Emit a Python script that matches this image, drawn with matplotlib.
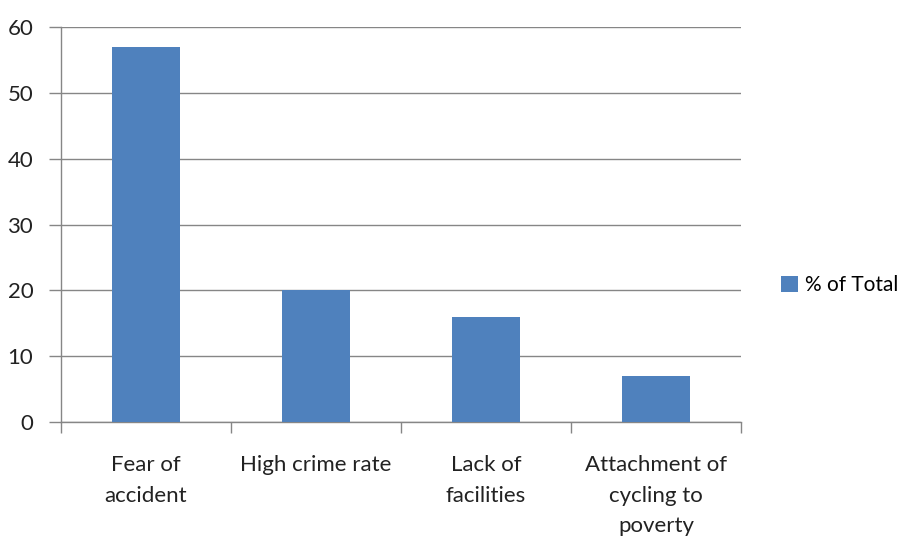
import numpy as np
import matplotlib.pyplot as plt
from matplotlib.patches import Patch

# Chart data.
categories = ["Fear of\naccident", "High crime rate", "Lack of\nfacilities",
              "Attachment of\ncycling to\npoverty"]
values = [57, 20, 16, 7]
seriesName = "% of Total"
yTicks = [0, 10, 20, 30, 40, 50, 60]

barColor = "#4F81BD"
gridColor = "#868686"

plt.rcParams["font.family"] = ["Lato", "DejaVu Sans"]

fig = plt.figure(figsize=(9.15, 5.41), dpi=100)
ax = fig.add_axes([0.0667, 0.22, 0.7433, 0.73])

x = np.arange(len(categories))
ax.bar(x, values, width=0.4, color=barColor, zorder=3)

# Axis limits and gridlines.
ax.set_xlim(-0.5, len(categories) - 0.5)
ax.set_ylim(0, 60)
ax.set_yticks(yTicks)
ax.yaxis.grid(True, color=gridColor, linewidth=1, zorder=0)

# Category labels at bar centers, tick marks at category boundaries.
ax.set_xticks(x)
ax.set_xticklabels(categories, fontsize=16, color="#222222", linespacing=1.65, va="top")
ax.set_xticks(np.arange(-0.5, len(categories)), minor=True)
ax.tick_params(axis="x", which="major", length=0, pad=24)
ax.tick_params(axis="x", which="minor", length=8, color=gridColor, width=1)
ax.tick_params(axis="y", length=9, color=gridColor, width=1, labelsize=16,
               labelcolor="#222222", pad=11)

for side in ["top", "right"]:
  ax.spines[side].set_visible(False)
for side in ["left", "bottom"]:
  ax.spines[side].set_color(gridColor)
  ax.spines[side].set_linewidth(1)

# Legend to the right of the plot area.
handle = Patch(facecolor=barColor, edgecolor="none", label=seriesName)
fig.legend(handles=[handle], loc="center left", bbox_to_anchor=(0.838, 0.473),
           frameon=False, fontsize=15, handlelength=0.8, handleheight=0.8,
           handletextpad=0.35, borderaxespad=0.3)

fig.savefig("out.png", dpi=100)
